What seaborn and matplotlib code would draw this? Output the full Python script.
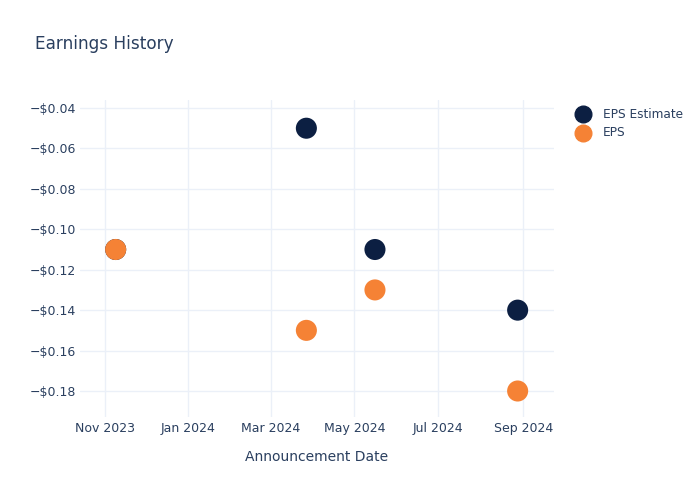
import pandas as pd
import seaborn as sns
import matplotlib
matplotlib.use('Agg')
from matplotlib import pyplot as plt
from matplotlib.ticker import FuncFormatter
import matplotlib.dates as mdates

dates = ['2023-11-09', '2024-03-27', '2024-05-16', '2024-08-28']
eps_estimate = [-0.11, -0.05, -0.11, -0.14]
eps_actual = [-0.11, -0.15, -0.13, -0.18]
series_names = ['EPS Estimate', 'EPS']
colors = ['#0c1f42', '#f58235']
text_color = '#2a3f5f'
grid_color = '#ebf0f8'


def money(v, pos):
    s = '${:.2f}'.format(abs(v))
    return '\u2212' + s if v < 0 else s


if __name__ == '__main__':
    df = pd.DataFrame({
        'Announcement Date': pd.to_datetime(dates * 2),
        'value': eps_estimate + eps_actual,
        'series': [series_names[0]] * len(dates) + [series_names[1]] * len(dates),
    })

    sns.set_style('white')
    plt.rcParams['font.family'] = ['DejaVu Sans']

    fig = plt.figure(figsize=(7, 5), dpi=100)
    ax = fig.add_axes([80 / 700, 1 - 417 / 500, (554 - 80) / 700, (417 - 100) / 500])

    sns.scatterplot(data=df, x='Announcement Date', y='value', hue='series',
                    palette=colors, s=230, linewidth=0, ax=ax, legend=False, zorder=3)

    ax.set_xlim(pd.Timestamp('2023-10-14'), pd.Timestamp('2024-09-23 12:00'))
    ax.set_ylim(-0.19286, -0.03604)
    ax.set_yticks([-0.04, -0.06, -0.08, -0.10, -0.12, -0.14, -0.16, -0.18])
    ax.yaxis.set_major_formatter(FuncFormatter(money))
    ax.xaxis.set_major_locator(mdates.MonthLocator(bymonth=[1, 3, 5, 7, 9, 11]))
    ax.xaxis.set_major_formatter(mdates.DateFormatter('%b %Y'))

    ax.grid(True, color=grid_color, linewidth=1)
    ax.set_axisbelow(True)
    for sp in ax.spines.values():
        sp.set_visible(False)
    ax.tick_params(axis='both', length=0, labelsize=9, colors=text_color)
    ax.tick_params(axis='y', pad=3)
    ax.tick_params(axis='x', pad=3.5)
    ax.set_xlabel('Announcement Date', fontsize=10, color=text_color, labelpad=11)
    ax.set_ylabel('')

    fig.text(35 / 700, 1 - 44 / 500, 'Earnings History', fontsize=12.2, color=text_color, va='center')

    for i, name in enumerate(series_names):
        y = 1 - (114 + 19 * i) / 500
        fig.lines.append(plt.Line2D([583 / 700], [y], marker='o', markersize=12, color=colors[i],
                                    linestyle='', transform=fig.transFigure))
        fig.text(603 / 700, y, name, fontsize=8.7, color=text_color, va='center')

    fig.savefig('out.png', dpi=100)
